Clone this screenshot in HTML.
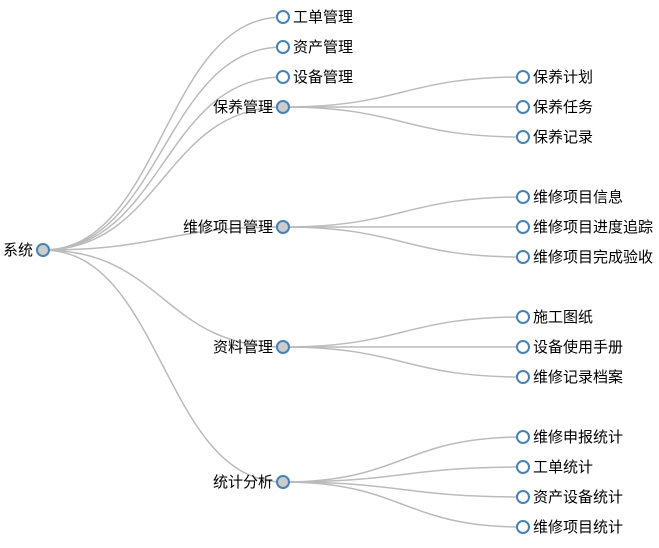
<!DOCTYPE html>
<html><head><meta charset="utf-8"><style>
html,body{margin:0;padding:0;background:#fff;}
svg{display:block;}
text{font-family:"Liberation Sans","Noto Sans CJK SC",sans-serif;font-size:15px;fill:#000;}
.link{fill:none;stroke:#bbb;stroke-width:1.5px;}
circle{stroke:#4682b4;stroke-width:2px;}
</style></head><body>
<svg width="659" height="548" xmlns="http://www.w3.org/2000/svg"><g id="s" transform="translate(0,1)"></g></svg>
<script>
var s=document.getElementById('s'),NS="http://www.w3.org/2000/svg";
var root={n:"系统",x:43,y:249,c:[
{n:"工单管理",y:16},{n:"资产管理",y:46},{n:"设备管理",y:76},
{n:"保养管理",y:106,c:[["保养计划",76],["保养任务",106],["保养记录",136]]},
{n:"维修项目管理",y:226,c:[["维修项目信息",196],["维修项目进度追踪",226],["维修项目完成验收",256]]},
{n:"资料管理",y:346,c:[["施工图纸",316],["设备使用手册",346],["维修记录档案",376]]},
{n:"统计分析",y:481,c:[["维修申报统计",436],["工单统计",466],["资产设备统计",496],["维修项目统计",526]]}]};
var links=[],nodes=[];
function L(x0,y0,x1,y1){var m=(x0+x1)/2;links.push("M"+x0+","+y0+"C"+m+","+y0+" "+m+","+y1+" "+x1+","+y1);}
nodes.push([root.x,root.y,root.n,true]);
root.c.forEach(function(a){L(43,249,283,a.y);nodes.push([283,a.y,a.n,!!a.c]);
 if(a.c)a.c.forEach(function(b){L(283,a.y,523,b[1]);nodes.push([523,b[1],b[0],false]);});});
links.forEach(function(d){var p=document.createElementNS(NS,"path");p.setAttribute("d",d);p.setAttribute("class","link");s.appendChild(p);});
nodes.forEach(function(n){var c=document.createElementNS(NS,"circle");c.setAttribute("cx",n[0]);c.setAttribute("cy",n[1]);c.setAttribute("r",6);c.setAttribute("fill",n[3]?"#ccc":"#fff");s.appendChild(c);
 var t=document.createElementNS(NS,"text");t.textContent=n[2];t.setAttribute("y",n[1]+5);
 if(n[3]){t.setAttribute("x",n[0]-10);t.setAttribute("text-anchor","end");}else{t.setAttribute("x",n[0]+10);}
 s.appendChild(t);});
</script>
</body></html>
